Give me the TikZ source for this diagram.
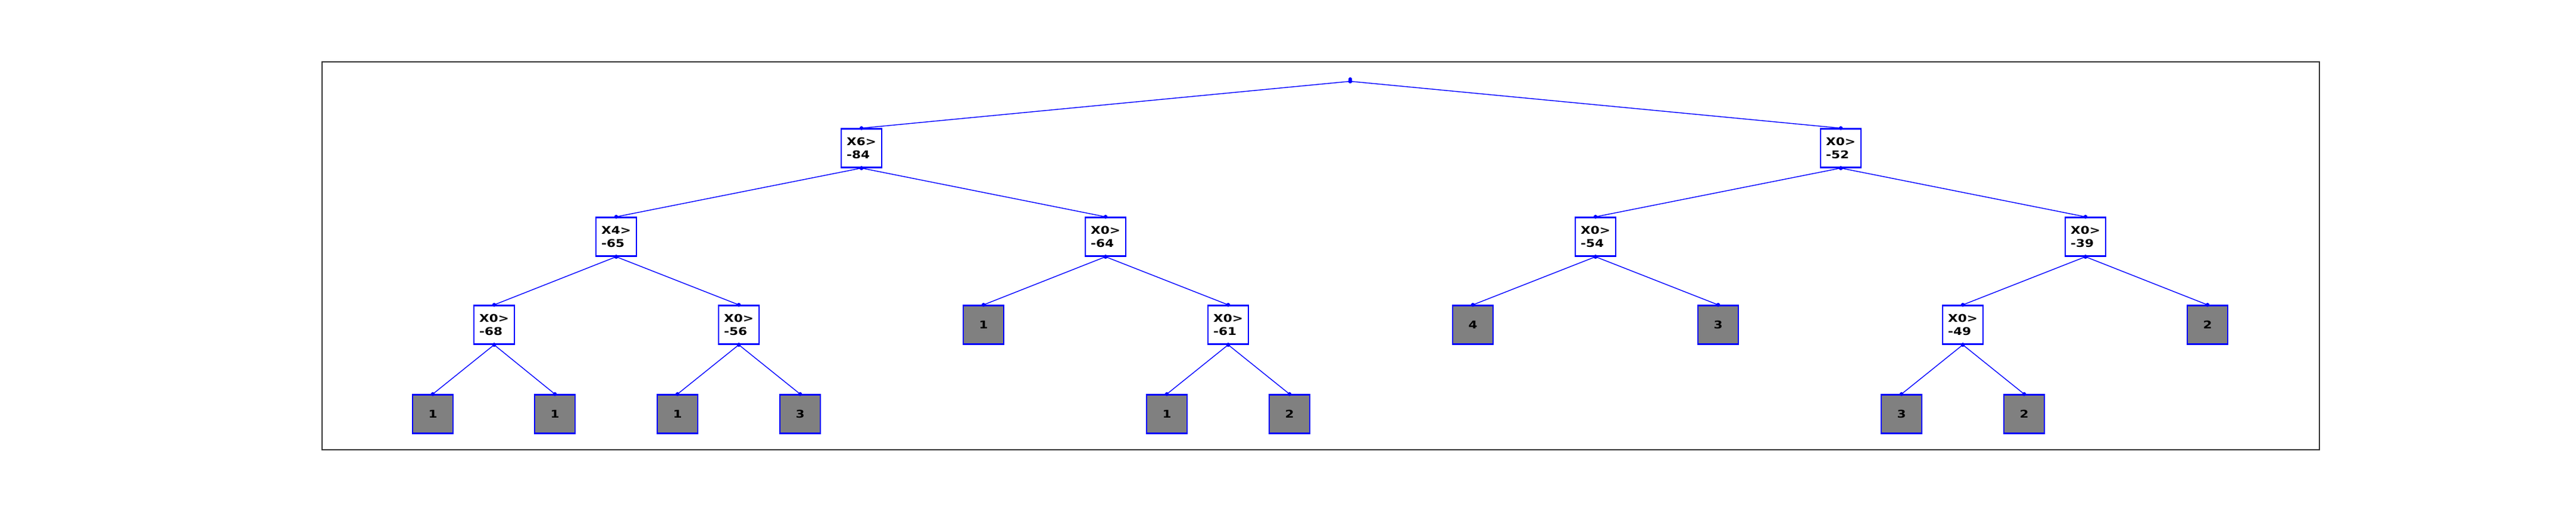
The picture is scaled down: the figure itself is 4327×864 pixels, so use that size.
\documentclass[tikz,border=0pt]{standalone}
\usepackage{fontspec}
\setmainfont{DejaVu Sans}
\newfontfamily\treefont[FakeStretch=1.2]{DejaVu Sans Bold}
\usetikzlibrary{positioning}

\begin{document}
\begin{tikzpicture}[x=0.01cm,y=-0.01cm]
		\definecolor{frame1}{HTML}{333333}
		\tikzset{
			split/.style={draw=blue, line width=0.6pt, fill=white, minimum width=0.68cm, minimum height=0.65cm, inner sep=0pt, align=left, font=\treefont\fontsize{5.1}{6.1}\selectfont},
			leaf/.style={split, fill=gray, align=center},
			edge/.style={draw=blue, line width=0.4pt},
			tip/.style={circle, fill=blue, inner sep=0pt, minimum size=0.6mm}
		}
		\useasboundingbox (0,0) rectangle (4327,864);
		\draw[frame1, line width=0.35pt] (541,104) rectangle (3896,756);
		% root and splits
		\node[tip] (root) at (2268,133) {};
		\node[split] (a) at (1447,249) {X6>\\-84};
		\node[split] (b) at (3092,249) {X0>\\-52};
		\node[split] (aa) at (1035,398) {X4>\\-65};
		\node[split] (ab) at (1857,398) {X0>\\-64};
		\node[split] (ba) at (2680,398) {X0>\\-54};
		\node[split] (bb) at (3503,398) {X0>\\-39};
		\node[split] (aaa) at (830,546) {X0>\\-68};
		\node[split] (aab) at (1241,546) {X0>\\-56};
		\node[leaf] (aba) at (1652,546) {1};
		\node[split] (abb) at (2063,546) {X0>\\-61};
		\node[leaf] (baa) at (2474,546) {4};
		\node[leaf] (bab) at (2886,546) {3};
		\node[split] (bba) at (3297,546) {X0>\\-49};
		\node[leaf] (bbb) at (3708,546) {2};
		% leaves
		\node[leaf] (aaaa) at (727,696) {1};
		\node[leaf] (aaab) at (932,696) {1};
		\node[leaf] (aaba) at (1138,696) {1};
		\node[leaf] (aabb) at (1344,696) {3};
		\node[leaf] (abba) at (1960,696) {1};
		\node[leaf] (abbb) at (2166,696) {2};
		\node[leaf] (bbaa) at (3194,696) {3};
		\node[leaf] (bbab) at (3400,696) {2};
		\foreach \p/\c in {root/a, root/b, a/aa, a/ab, b/ba, b/bb, aa/aaa, aa/aab, ab/aba, ab/abb, ba/baa, ba/bab, bb/bba, bb/bbb, aaa/aaaa, aaa/aaab, aab/aaba, aab/aabb, abb/abba, abb/abbb, bba/bbaa, bba/bbab}{
				\draw[edge] (\p.south) -- (\c.north);
				\fill[blue] (\p.south) circle (0.33mm) (\c.north) circle (0.33mm);
			}
	\end{tikzpicture}
\end{document}
